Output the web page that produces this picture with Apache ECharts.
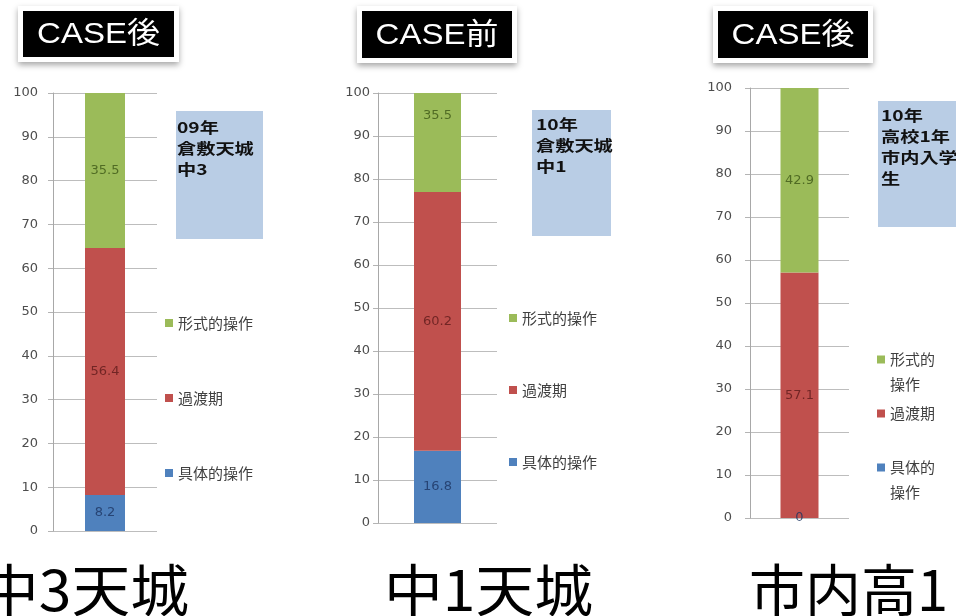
<!DOCTYPE html>
<html><head><meta charset="utf-8">
<script src="https://cdn.jsdelivr.net/npm/echarts@6/dist/echarts.min.js"></script>
<style>html,body{margin:0;padding:0;background:#fff}#c{width:956px;height:616px}</style>
</head><body><div id="c"></div>
<script>
// ---- data ----
const seriesNames = ['具体的操作', '過渡期', '形式的操作'];   // stacking order, bottom -> top
const legendOrder = ['形式的操作', '過渡期', '具体的操作'];
const panelTitles = ['CASE後', 'CASE前', 'CASE後'];
const panelNotes = ['09年\n倉敷天城\n中3', '10年\n倉敷天城\n中1', '10年\n高校1年\n市内入学\n生'];
const panelNames = ['中3天城', '中1天城', '市内高1'];
const concreteOps = [8.2, 16.8, 0];
const transition = [56.4, 60.2, 57.1];
const formalOps = [35.5, 35.5, 42.9];
const yMin = 0, yMax = 100, yStep = 10;

// ---- styling / layout ----
const colors = ['#4F81BD', '#C0504D', '#9BBB59'];
const labelColors = ['#1d3461', '#5c1a1a', '#3d5716'];
const layout = [
  { grid: { left: 53, right: 799, top: 93, bottom: 85 }, barW: 40, labMargin: 15,
    legend: { left: 165, top: 315, gap: 59, lh: 16 }, note: [176, 111, 87, 128], noteText: [177, 116.5],
    title: [23, 11, 151, 46], nameX: -20, nameScale: 1.05 },
  { grid: { left: 378, right: 459, top: 93, bottom: 93 }, barW: 47, labMargin: 8,
    legend: { left: 509, top: 310, gap: 56, lh: 16 }, note: [532, 110, 79, 126], noteText: [536, 114],
    title: [362, 11, 150, 47], nameX: 384, nameScale: 1.05 },
  { grid: { left: 750, right: 107, top: 88, bottom: 98 }, barW: 38, labMargin: 18,
    legend: { left: 877, top: 322, gap: 4, lh: 25 }, note: [878, 101, 80, 126], noteText: [881, 105],
    title: [718, 11, 150, 47], nameX: 749, nameScale: 1 }
];

const valuesBySeries = [concreteOps, transition, formalOps];
const grids = [], xAxes = [], yAxes = [], series = [], legends = [], graphics = [];

layout.forEach((L, i) => {
  grids.push(Object.assign({ containLabel: false }, L.grid));
  xAxes.push({ type: 'category', gridIndex: i, data: [panelNames[i]],
    axisLine: { show: false }, axisTick: { show: false }, axisLabel: { show: false } });
  yAxes.push({ type: 'value', gridIndex: i, min: yMin, max: yMax, interval: yStep,
    axisLine: { show: true, lineStyle: { color: '#a8a8a8', width: 1 } },
    axisTick: { show: true, length: 5, lineStyle: { color: '#b4b4b4' } },
    splitLine: { show: true, lineStyle: { color: '#bdbdbd', width: 1 } },
    axisLabel: { margin: L.labMargin, color: '#4d4d4d', fontSize: 13, fontFamily: 'DejaVu Sans' } });
  let cum = 0;
  const labelData = [];
  seriesNames.forEach((name, k) => {
    const v = valuesBySeries[k][i];
    series.push({ name, type: 'bar', xAxisIndex: i, yAxisIndex: i, stack: 'p' + i,
      barWidth: L.barW, data: [v], itemStyle: { color: colors[k] }, emphasis: { disabled: true } });
    labelData.push({ value: [0, cum + v / 2, v], label: { color: labelColors[k] } });
    cum += v;
  });
  series.push({ name: 'labels' + i, type: 'scatter', xAxisIndex: i, yAxisIndex: i,
    symbol: 'circle', symbolSize: 1, itemStyle: { color: 'rgba(0,0,0,0)' }, z: 5,
    data: labelData, silent: true,
    label: { show: true, position: 'inside', fontSize: 13, fontFamily: 'DejaVu Sans',
      formatter: p => String(p.value[2]) } });

  legends.push({ orient: 'vertical', left: L.legend.left, top: L.legend.top, padding: 0,
    itemGap: L.legend.gap, itemWidth: 8, itemHeight: 8, icon: 'rect', data: legendOrder,
    selectedMode: false,
    textStyle: { fontSize: 15, color: '#404040', fontFamily: 'Noto Sans CJK JP', lineHeight: L.legend.lh },
    formatter: i === 2 ? (n => n.length > 3 ? '\n' + n.slice(0, 3) + '\n' + n.slice(3) : n) : (n => n) });

  // note box
  graphics.push({ type: 'rect', shape: { x: L.note[0], y: L.note[1], width: L.note[2], height: L.note[3] },
    style: { fill: '#B9CDE5' }, silent: true });
  graphics.push({ type: 'text', x: L.noteText[0], y: L.noteText[1], scaleX: 1.28,
    style: { text: panelNotes[i], fill: '#111', font: 'bold 15px "Noto Sans CJK JP"', lineHeight: 21,
      verticalAlign: 'top', align: 'left' }, silent: true });
  // title box
  const t = L.title;
  graphics.push({ type: 'rect', shape: { x: t[0] - 5, y: t[1] - 5, width: t[2] + 10, height: t[3] + 10 },
    style: { fill: '#ffffff', shadowBlur: 6, shadowOffsetY: 3, shadowColor: 'rgba(0,0,0,0.35)' }, silent: true });
  graphics.push({ type: 'rect', shape: { x: t[0], y: t[1], width: t[2], height: t[3] },
    style: { fill: '#000000' }, silent: true });
  graphics.push({ type: 'text', x: t[0] + t[2] / 2, y: t[1] + t[3] / 2 + 1, scaleX: 1.1,
    style: { text: panelTitles[i], fill: '#ffffff', font: '30px "Liberation Sans", "Noto Sans CJK JP"',
      align: 'center', verticalAlign: 'middle' }, silent: true });
  // bottom name
  graphics.push({ type: 'text', x: L.nameX, y: 590, scaleX: L.nameScale,
    style: { text: panelNames[i], fill: '#000', font: '56px "Noto Sans CJK JP"',
      align: 'left', verticalAlign: 'middle' }, silent: true });
});

const chart = echarts.init(document.getElementById('c'), null, { renderer: 'canvas' });
chart.setOption({
  backgroundColor: '#ffffff',
  animation: false,
  grid: grids, xAxis: xAxes, yAxis: yAxes, series, legend: legends,
  graphic: { elements: graphics }
});
</script></body></html>
